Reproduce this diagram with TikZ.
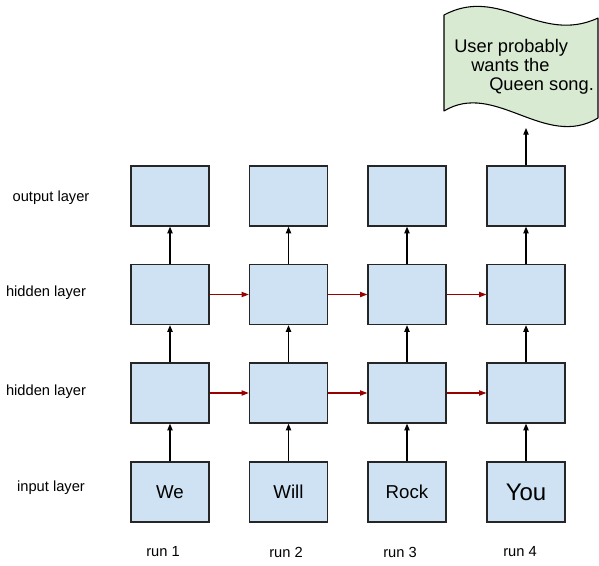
\documentclass[tikz,border=0pt]{standalone}
\usepackage{fontspec}
\setmainfont{Liberation Sans}
\usetikzlibrary{arrows.meta}
\definecolor{boxblue}{HTML}{CFE2F3}
\definecolor{wavegreen}{HTML}{D9EAD3}
\definecolor{recred}{HTML}{990000}
\begin{document}
\begin{tikzpicture}[x=0.75pt,y=-0.75pt,
  cell/.style={draw=black!85, line width=1pt, fill=boxblue, minimum width=58.5pt, minimum height=45pt, inner sep=0pt, font=\fontsize{14}{16}\selectfont},
  lbl/.style={font=\fontsize{11}{13}\selectfont, inner sep=0pt},
  wtxt/.style={font=\fontsize{13.7}{15}\selectfont, inner sep=0pt, anchor=base west},
  uparrow/.style={-{Triangle[length=5pt,width=4pt]}, line width=0.8pt, black},
  recarrow/.style={-{Triangle[length=5.5pt,width=4pt]}, line width=0.8pt, recred}]
\useasboundingbox (0,0) rectangle (599,565);

% input layer
\node[cell] (i1) at (170,492) {We};
\node[cell] (i2) at (288.5,492) {Will};
\node[cell] (i3) at (407,492) {Rock};
\node[cell, font=\fontsize{18}{20}\selectfont] (i4) at (526,492) {You};
% lower hidden layer
\node[cell] (g1) at (170,393) {};
\node[cell] (g2) at (288.5,393) {};
\node[cell] (g3) at (407,393) {};
\node[cell] (g4) at (526,393) {};
% upper hidden layer
\node[cell] (h1) at (170,294.5) {};
\node[cell] (h2) at (288.5,294.5) {};
\node[cell] (h3) at (407,294.5) {};
\node[cell] (h4) at (526,294.5) {};
% output layer
\node[cell] (o1) at (170,196) {};
\node[cell] (o2) at (288.5,196) {};
\node[cell] (o3) at (407,196) {};
\node[cell] (o4) at (526,196) {};

% vertical arrows
\foreach \c in {1,2,3,4} {
  \draw[uparrow] (i\c) -- (g\c);
  \draw[uparrow] (g\c) -- (h\c);
  \draw[uparrow] (h\c) -- (o\c);
}
% recurrent arrows
\foreach \a/\b in {1/2,2/3,3/4} {
  \draw[recarrow] (g\a.east) -- (g\b.west);
  \draw[recarrow] (h\a.east) -- (h\b.west);
}

% wave shape
\draw[fill=wavegreen, line width=0.8pt, line join=round] (444,15) .. controls (500,-15) and (540,45) .. (598,18) -- (598,118) .. controls (545,150) and (495,80) .. (444,111) -- cycle;
\node[wtxt] (w1) at (454,52) {User probably};
\node[wtxt] (w2) at (471,71) {wants the};
\node[wtxt] (w3) at (489,90) {Queen song.};
\coordinate (tip) at (526,128);
\draw[uparrow] (o4) -- (tip);

% layer labels
\node[lbl] (lo) at (51,198) {output layer};
\node[lbl] (lh2) at (46,293) {hidden layer};
\node[lbl] (lh1) at (46,392) {hidden layer};
\node[lbl] (li) at (51,488) {input layer};

% run labels
\node[lbl] (r1) at (163,552) {run 1};
\node[lbl] (r2) at (286,552) {run 2};
\node[lbl] (r3) at (400,552) {run 3};
\node[lbl] (r4) at (520,552) {run 4};
\end{tikzpicture}
\end{document}
